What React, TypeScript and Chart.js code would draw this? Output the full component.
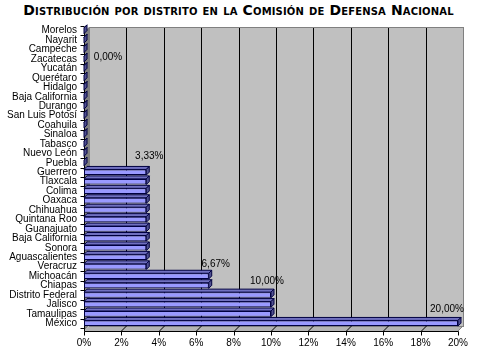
import React, { useEffect, useRef } from "react";
import { Chart, registerables } from "chart.js";

Chart.register(...registerables);

const TITLE = "Distribución por distrito en la Comisión de Defensa Nacional";

const categories = [
  "Morelos", "Nayarit", "Campeche", "Zacatecas", "Yucatán", "Querétaro", "Hidalgo",
  "Baja California", "Durango", "San Luis Potosí", "Coahuila", "Sinaloa", "Tabasco",
  "Nuevo León", "Puebla", "Guerrero", "Tlaxcala", "Colima", "Oaxaca", "Chihuahua",
  "Quintana Roo", "Guanajuato", "Baja California", "Sonora", "Aguascalientes", "Veracruz",
  "Michoacán", "Chiapas", "Distrito Federal", "Jalisco", "Tamaulipas", "México",
];

const values = [
  0, 0, 0, 0, 0, 0, 0, 0, 0, 0, 0, 0, 0, 0, 0,
  3.33, 3.33, 3.33, 3.33, 3.33, 3.33, 3.33, 3.33, 3.33, 3.33, 3.33,
  6.67, 6.67, 10, 10, 10, 20,
];

const xTicks = [0, 2, 4, 6, 8, 10, 12, 14, 16, 18, 20];

// category index where each value label is anchored, and the label text
const labelAnchors = [3, 15, 26, 28, 31];
const labelTexts = ["0,00%", "3,33%", "6,67%", "10,00%", "20,00%"];

// style: label offsets (dx from bar end, dy from category centre)
const labelOffsets = [
  [24, -2], [3, -16], [7, -12], [-4, -14], [-11, -14],
];

const FONT = "'Liberation Sans', Arial, sans-serif";
const D = 5; // wall depth
const d = 3; // bar depth

const decor = {
  id: "decor",
  beforeDatasetsDraw(chart: any) {
    const { ctx, chartArea, scales } = chart;
    const xs = scales.x;
    const L = xs.getPixelForValue(0);
    const R = xs.getPixelForValue(20);
    const backTop = chartArea.top + 1;
    const fb = chartArea.bottom + 3;
    ctx.save();
    ctx.fillStyle = "#C0C0C0";
    ctx.fillRect(L + D, backTop, R - L, fb - D - backTop);
    ctx.fillStyle = "#808080";
    ctx.beginPath();
    ctx.moveTo(L, backTop + D);
    ctx.lineTo(L + D, backTop);
    ctx.lineTo(L + D, fb - D);
    ctx.lineTo(L, fb);
    ctx.closePath();
    ctx.fill();
    ctx.fillStyle = "#B4B4B4";
    ctx.beginPath();
    ctx.moveTo(L, fb);
    ctx.lineTo(L + D, fb - D);
    ctx.lineTo(R + D, fb - D);
    ctx.lineTo(R, fb);
    ctx.closePath();
    ctx.fill();
    ctx.strokeStyle = "#808080";
    ctx.lineWidth = 1;
    ctx.strokeRect(Math.round(L + D) + 0.5, Math.round(backTop) + 0.5, Math.round(R - L), Math.round(fb - D - backTop));
    ctx.strokeStyle = "#000";
    for (const v of xTicks) {
      if (v === 0 || v === 20) continue;
      const x = Math.round(xs.getPixelForValue(v)) + 0.5;
      ctx.beginPath();
      ctx.moveTo(x + D, backTop + 1);
      ctx.lineTo(x + D, fb - D);
      ctx.lineTo(x, fb);
      ctx.stroke();
    }
    ctx.strokeStyle = "#808080";
    ctx.beginPath();
    ctx.moveTo(R + D, fb - D);
    ctx.lineTo(R, fb);
    ctx.stroke();
    ctx.strokeStyle = "#000";
    const lx = Math.round(L) + 0.5;
    const by = Math.round(fb) + 0.5;
    ctx.beginPath();
    ctx.moveTo(lx, backTop + D);
    ctx.lineTo(lx, by);
    ctx.lineTo(Math.round(R) + 0.5, by);
    ctx.stroke();
    for (const v of xTicks) {
      const x = Math.round(xs.getPixelForValue(v)) + 0.5;
      ctx.beginPath();
      ctx.moveTo(x, by);
      ctx.lineTo(x, by + 4);
      ctx.stroke();
    }
    const ys = scales.y;
    const step = (chartArea.bottom - chartArea.top) / categories.length;
    for (let i = 0; i <= categories.length; i++) {
      const y = Math.round(ys.getPixelForValue(i) - step / 2) + 0.5;
      ctx.beginPath();
      ctx.moveTo(lx - 4, y);
      ctx.lineTo(lx, y);
      ctx.stroke();
    }
    ctx.restore();
  },
  afterDatasetsDraw(chart: any) {
    const { ctx, scales } = chart;
    const meta = chart.getDatasetMeta(0);
    ctx.save();
    ctx.strokeStyle = "#000040";
    ctx.lineWidth = 1;
    meta.data.forEach((bar: any) => {
      const { x, y, base, height } = bar.getProps(["x", "y", "base", "height"], true);
      const t = y - height / 2;
      const b = y + height / 2;
      ctx.fillStyle = "#7070C0";
      ctx.beginPath();
      ctx.moveTo(base, t);
      ctx.lineTo(base + d, t - d);
      ctx.lineTo(x + d, t - d);
      ctx.lineTo(x, t);
      ctx.closePath();
      ctx.fill();
      ctx.stroke();
      ctx.fillStyle = "#505090";
      ctx.beginPath();
      ctx.moveTo(x, t);
      ctx.lineTo(x + d, t - d);
      ctx.lineTo(x + d, b - d);
      ctx.lineTo(x, b);
      ctx.closePath();
      ctx.fill();
      ctx.stroke();
    });
    ctx.fillStyle = "#000";
    ctx.font = `10px ${FONT}`;
    ctx.textAlign = "center";
    ctx.textBaseline = "middle";
    labelAnchors.forEach((ci, k) => {
      const xe = scales.x.getPixelForValue(values[ci]);
      const yc = scales.y.getPixelForValue(ci);
      ctx.fillText(labelTexts[k], xe + labelOffsets[k][0], yc + labelOffsets[k][1]);
    });
    ctx.restore();
  },
};

export default function App() {
  const ref = useRef<HTMLCanvasElement>(null);
  useEffect(() => {
    if (!ref.current) return;
    const chart = new Chart(ref.current, {
      type: "bar",
      data: {
        labels: categories,
        datasets: [
          {
            data: values,
            backgroundColor: "#9999FF",
            borderColor: "#000040",
            borderWidth: 1,
            borderSkipped: false,
            categoryPercentage: 1,
            barPercentage: 0.6,
          },
        ],
      },
      options: {
        indexAxis: "y",
        animation: false,
        responsive: false,
        devicePixelRatio: 1,
        layout: { padding: { top: 26, right: 19, left: 0, bottom: 0 } },
        plugins: { legend: { display: false }, tooltip: { enabled: false }, title: { display: false } },
        scales: {
          x: {
            min: 0,
            max: 20,
            afterFit: (s: any) => { s.height = 23; },
            afterBuildTicks: (s: any) => { s.ticks = xTicks.map((v) => ({ value: v })); },
            grid: { display: false, drawTicks: false },
            border: { display: false },
            ticks: {
              autoSkip: false,
              maxRotation: 0,
              padding: 9,
              color: "#000",
              font: { family: FONT, size: 10 },
              callback: (v: any) => `${v}%`,
            },
          },
          y: {
            afterFit: (s: any) => { s.width = 84; },
            grid: { display: false, drawTicks: false },
            border: { display: false },
            ticks: {
              autoSkip: false,
              padding: 7,
              color: "#000",
              font: { family: FONT, size: 10 },
            },
          },
        },
      },
      plugins: [decor],
    });
    return () => chart.destroy();
  }, []);
  return (
    <div style={{ position: "fixed", left: 0, top: 0, width: 477, height: 351, background: "#fff" }}>
      <div
        style={{
          position: "absolute",
          left: 0,
          top: 2,
          width: 477,
          textAlign: "center",
          fontFamily: "'DejaVu Sans', sans-serif",
          fontWeight: "bold",
          fontVariant: "small-caps",
          fontSize: 14,
          letterSpacing: "0.15px",
          lineHeight: "16px",
          whiteSpace: "nowrap",
          color: "#000",
        }}
      >
        {TITLE}
      </div>
      <canvas ref={ref} width={477} height={351} style={{ position: "absolute", left: 0, top: 0 }} />
    </div>
  );
}
